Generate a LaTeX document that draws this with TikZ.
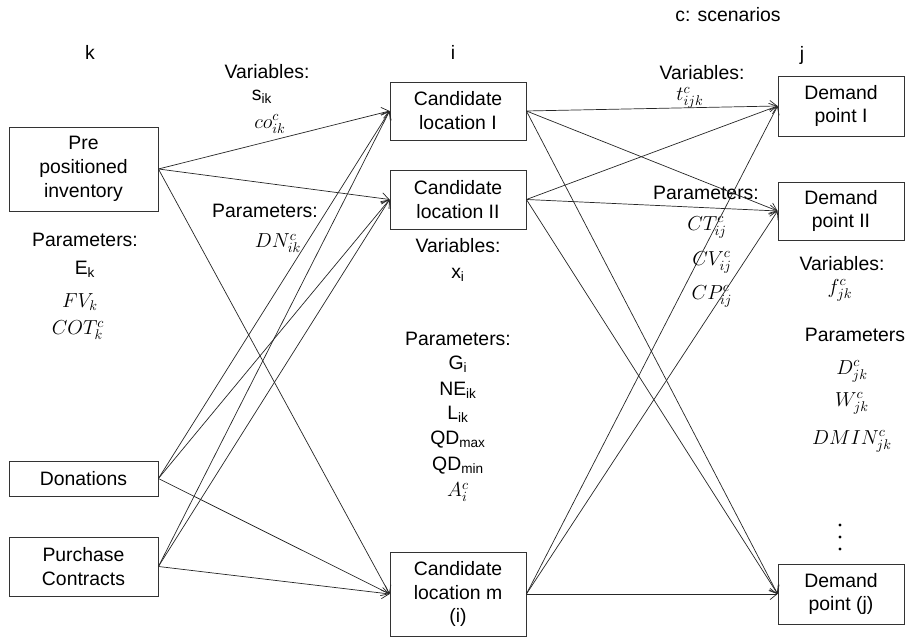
\documentclass[tikz,border=0pt]{standalone}
\usepackage{fontspec}
\setmainfont{Liberation Sans}
\usetikzlibrary{arrows.meta}

\begin{document}
\begin{tikzpicture}[font=\fontsize{13.8}{17}\selectfont,
		box/.style={draw=black!80, line width=0.6pt, align=center, inner sep=0pt},
		lbl/.style={inner sep=0.5pt},
		mth/.style={inner sep=0.5pt, font=\fontsize{14.5}{17}\selectfont},
		link/.style={-{Straight Barb[length=5pt,width=8pt]}, draw=black!85, line width=0.5pt}]
		%%%%% START %%%%%
		\useasboundingbox (0,0) rectangle (22.625,16);
		
		% sources (k)
		\node[box, minimum width=3.725cm, minimum height=2.1cm] (pre) at (2.0875, 11.775) {Pre\\positioned\\inventory};
		\node[box, minimum width=3.725cm, minimum height=0.875cm] (don) at (2.0875, 4.0375) {Donations};
		\node[box, minimum width=3.725cm, minimum height=1.475cm] (pur) at (2.0875, 1.8375) {Purchase\\Contracts};
		
		% candidate locations (i)
		\node[box, minimum width=3.4cm, minimum height=1.45cm] (cl1) at (11.45, 13.225) {Candidate\\location I};
		\node[box, minimum width=3.4cm, minimum height=1.475cm] (cl2) at (11.45, 11.0125) {Candidate\\location II};
		\node[box, minimum width=3.4cm, minimum height=2.1cm] (clm) at (11.45, 1.15) {Candidate\\location m\\(i)};
		
		% demand points (j)
		\node[box, minimum width=3.15cm, minimum height=1.5cm] (dp1) at (21.025, 13.35) {Demand\\point I};
		\node[box, minimum width=3.15cm, minimum height=1.45cm] (dp2) at (21.025, 10.725) {Demand\\point II};
		\node[box, minimum width=3.15cm, minimum height=1.5cm] (dpj) at (21.025, 1.15) {Demand\\point (j)};
		
		% index labels
		\node[lbl] (k) at (2.25, 14.7) {k};
		\node[lbl] (i) at (11.325, 14.7) {i};
		\node[lbl] (j) at (20.05, 14.625) {j};
		\node[lbl] (scen) at (18.2, 15.625) {c: scenarios};
		
		% k parameters
		\node[lbl] (kpar) at (2.125, 10.0) {Parameters:};
		\node[lbl] (ek) at (2.125, 9.275) {E\textsubscript{k}};
		\node[mth] (fvk) at (2.0, 8.45) {$FV_k$};
		\node[mth] (cotk) at (1.95, 7.75) {$COT_k^c$};
		
		% k-i labels
		\node[lbl] (kivar) at (6.675, 14.2) {Variables:};
		\node[lbl] (sik) at (6.55, 13.575) {s\textsubscript{ik}};
		\node[mth] (coik) at (6.75, 12.9) {$co_{ik}^c$};
		\node[lbl] (kipar) at (6.625, 10.725) {Parameters:};
		\node[mth] (dnik) at (6.95, 9.925) {$DN_{ik}^c$};
		
		% i labels
		\node[lbl] (ivar) at (11.45, 9.85) {Variables:};
		\node[lbl] (xi) at (11.45, 9.125) {x\textsubscript{i}};
		\node[lbl] (ipar) at (11.45, 7.525) {Parameters:};
		\node[lbl] (gi) at (11.45, 6.9) {G\textsubscript{i}};
		\node[lbl] (neik) at (11.45, 6.25) {NE\textsubscript{ik}};
		\node[lbl] (lik) at (11.45, 5.65) {L\textsubscript{ik}};
		\node[lbl] (qdmax) at (11.45, 5.0) {QD\textsubscript{max}};
		\node[lbl] (qdmin) at (11.45, 4.35) {QD\textsubscript{min}};
		\node[mth] (ai) at (11.45, 3.7) {$A_i^c$};
		
		% i-j labels
		\node[lbl] (ijvar) at (17.55, 14.175) {Variables:};
		\node[mth] (tijk) at (17.25, 13.55) {$t_{ijk}^c$};
		\node[lbl] (ijpar) at (17.65, 11.175) {Parameters:};
		\node[mth] (ctij) at (17.675, 10.325) {$CT_{ij}^c$};
		\node[mth] (cvij) at (17.8, 9.45) {$CV_{ij}^c$};
		\node[mth] (cpij) at (17.8, 8.6) {$CP_{ij}^c$};
		
		% j labels
		\node[lbl] (jvar) at (21.05, 9.4) {Variables:};
		\node[mth] (fjk) at (21.0, 8.75) {$f_{jk}^c$};
		\node[lbl] (jpar) at (21.375, 7.625) {Parameters};
		\node[mth] (djk) at (21.3, 6.725) {$D_{jk}^c$};
		\node[mth] (wjk) at (21.3, 5.925) {$W_{jk}^c$};
		\node[mth] (dminjk) at (21.3, 4.975) {$DMIN_{jk}^c$};
		\fill (21.0, 2.875) circle (1.2pt);
		\fill (21.0, 2.575) circle (1.2pt);
		\fill (21.0, 2.275) circle (1.2pt);
		
		% k -> i
		\draw[link] (pre.east) -- (cl1.west);
		\draw[link] (pre.east) -- (cl2.west);
		\draw[link] (pre.east) -- (clm.west);
		\draw[link] (don.east) -- (cl1.west);
		\draw[link] (don.east) -- (cl2.west);
		\draw[link] (don.east) -- (clm.west);
		\draw[link] (pur.east) -- (cl1.west);
		\draw[link] (pur.east) -- (cl2.west);
		\draw[link] (pur.east) -- (clm.west);
		
		% i -> j
		\draw[link] (cl1.east) -- (dp1.west);
		\draw[link] (cl1.east) -- (dp2.west);
		\draw[link] (cl1.east) -- (dpj.west);
		\draw[link] (cl2.east) -- (dp1.west);
		\draw[link] (cl2.east) -- (dp2.west);
		\draw[link] (cl2.east) -- (dpj.west);
		\draw[link] (clm.east) -- (dp1.west);
		\draw[link] (clm.east) -- (dp2.west);
		\draw[link] (clm.east) -- (dpj.west);
		%%%%% END %%%%%
	\end{tikzpicture}
\end{document}
